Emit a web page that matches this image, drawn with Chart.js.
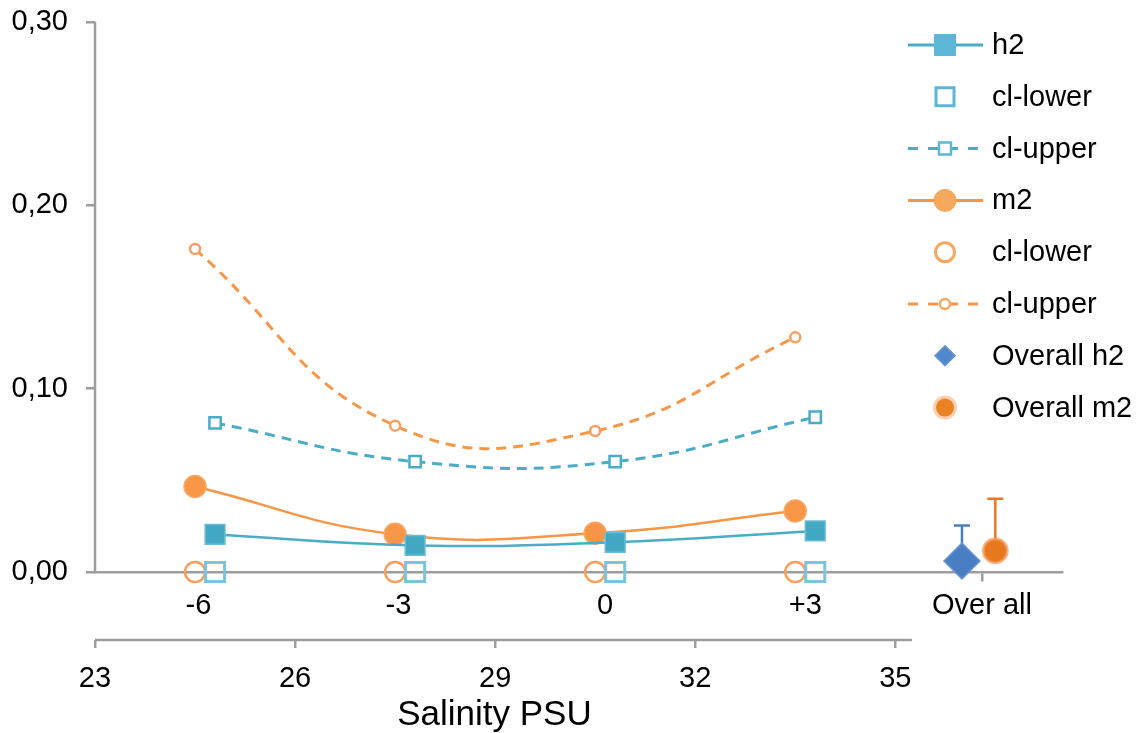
<!DOCTYPE html>
<html>
<head>
<meta charset="utf-8">
<script src="https://cdn.jsdelivr.net/npm/chart.js@4.4.1/dist/chart.umd.min.js"></script>
<style>
html,body{margin:0;padding:0;background:#fff;}
#caja{width:1138px;height:733px;position:relative;}
</style>
</head>
<body>
<div id="caja"><canvas id="grafica"></canvas></div>
<script>
// valores
var salH2 = [24.8, 27.8, 30.8, 33.8];
var salM2 = [24.5, 27.5, 30.5, 33.5];
var h2 = [0.0205, 0.0145, 0.0162, 0.0224];
var h2Lower = [0, 0, 0, 0];
var h2Upper = [0.0813, 0.0602, 0.0602, 0.0844];
var m2 = [0.0466, 0.0206, 0.0211, 0.0333];
var m2Lower = [0, 0, 0, 0];
var m2Upper = [0.1762, 0.0798, 0.0769, 0.1280];
var overallX = [36.0, 36.5];
var overallH2 = 0.0060, overallH2Upper = 0.0253;
var overallM2 = 0.0116, overallM2Upper = 0.0400;

var salTicks = [23, 26, 29, 32, 35];
var catLabels = ['-6', '-3', '0', '+3', 'Over all'];
var catPos = [24.55, 27.55, 30.65, 33.65, 36.3];
var yTicks = [0, 0.1, 0.2, 0.3];
var tituloX = 'Salinity PSU';

var gris = '#9d9d9d';
var azul = '#4BACC6';
var naranja = '#F79646';
var fuente = "'Liberation Sans', Arial, sans-serif";

function pares(xs, ys) {
    return xs.map(function (x, i) { return {x: x, y: ys[i]}; });
}

Chart.defaults.font.family = fuente;
Chart.defaults.font.size = 29;
Chart.defaults.color = '#000';

// lineas de ejes, barras de error, titulo y leyenda
var extras = {
    id: 'extras',
    beforeDatasetsDraw: function (chart) {
        var ctx = chart.ctx, sx = chart.scales.x, sy = chart.scales.y;
        ctx.save();
        ctx.strokeStyle = gris;
        ctx.lineWidth = 2.5;
        ctx.beginPath();
        ctx.moveTo(sx.left, sy.getPixelForValue(0.3));
        ctx.lineTo(sx.left, sy.getPixelForValue(0));
        ctx.moveTo(sx.getPixelForValue(23), chart.chartArea.bottom);
        ctx.lineTo(sx.getPixelForValue(35.25), chart.chartArea.bottom);
        ctx.stroke();
        var barras = [[overallX[0], overallH2, overallH2Upper, '#4A7EBB'],
                      [overallX[1], overallM2, overallM2Upper, '#E8782A']];
        barras.forEach(function (b) {
            var px = sx.getPixelForValue(b[0]);
            var y0 = sy.getPixelForValue(b[1]), y1 = sy.getPixelForValue(b[2]);
            ctx.strokeStyle = b[3];
            ctx.beginPath();
            ctx.moveTo(px, y0);
            ctx.lineTo(px, y1);
            ctx.moveTo(px - 8, y1);
            ctx.lineTo(px + 8, y1);
            ctx.stroke();
        });
        ctx.restore();
    },
    afterDraw: function (chart) {
        var ctx = chart.ctx, sx = chart.scales.x;
        ctx.save();
        // titulo del eje, centrado bajo la linea 23-35
        ctx.fillStyle = '#000';
        ctx.font = '35px ' + fuente;
        ctx.textAlign = 'center';
        ctx.textBaseline = 'middle';
        ctx.fillText(tituloX, (sx.getPixelForValue(23) + sx.getPixelForValue(35.25)) / 2 - 9, 715);
        // leyenda propia, dentro del area
        chart.data.datasets.forEach(function (ds, i) {
            var y = 45 + i * 51.8;
            var ly = ds.leyenda;
            if (ly.linea) {
                ctx.beginPath();
                ctx.strokeStyle = ds.borderColor;
                ctx.lineWidth = 3;
                ctx.setLineDash(ly.linea === 'dash' ? [10, 10] : []);
                ctx.moveTo(908, y);
                ctx.lineTo(983, y);
                ctx.stroke();
                ctx.setLineDash([]);
            }
            marca(ctx, ds.pointStyle, 945, y, ly.r, ly.relleno, ly.borde, ly.ancho, ly.halo);
            ctx.fillStyle = '#000';
            ctx.font = '29px ' + fuente;
            ctx.textBaseline = 'middle';
            ctx.textAlign = 'left';
            ctx.fillText(ds.label, 992, y + 1);
        });
        ctx.restore();
    }
};

function marca(ctx, estilo, x, y, r, relleno, borde, ancho, halo) {
    if (halo) {
        ctx.beginPath();
        ctx.arc(x, y, r + 3, 0, Math.PI * 2);
        ctx.fillStyle = halo;
        ctx.fill();
    }
    ctx.beginPath();
    if (estilo === 'rect') ctx.rect(x - r, y - r, 2 * r, 2 * r);
    else if (estilo === 'rectRot') {
        ctx.moveTo(x - r, y); ctx.lineTo(x, y - r); ctx.lineTo(x + r, y); ctx.lineTo(x, y + r); ctx.closePath();
    } else ctx.arc(x, y, r, 0, Math.PI * 2);
    if (relleno) { ctx.fillStyle = relleno; ctx.fill(); }
    if (ancho) { ctx.lineWidth = ancho; ctx.strokeStyle = borde; ctx.stroke(); }
}

var grafica = document.getElementById('grafica').getContext('2d');
var chart = new Chart(grafica, {
    type: 'line',
    data: {
        datasets: [{
            label: 'h2',
            data: pares(salH2, h2),
            borderColor: azul, borderWidth: 2.5, tension: 0.45,
            pointStyle: 'rect', pointRadius: 14, pointBackgroundColor: '#43A8C4',
            pointBorderColor: '#6DBCD6', pointBorderWidth: 1.5,
            leyenda: {linea: 'solid', r: 10.5, relleno: '#5BB7D5', borde: '#5BB7D5', ancho: 1}
        }, {
            label: 'cl-lower',
            data: pares(salH2, h2Lower),
            showLine: false, borderColor: azul,
            pointStyle: 'rect', pointRadius: 13.5, pointBackgroundColor: 'rgba(0,0,0,0)',
            pointBorderColor: '#7CC4DC', pointBorderWidth: 3,
            leyenda: {linea: null, r: 9, relleno: null, borde: '#5BB7D5', ancho: 3}
        }, {
            label: 'cl-upper',
            data: pares(salH2, h2Upper),
            borderColor: azul, borderWidth: 3, borderDash: [10, 7], tension: 0.45,
            pointStyle: 'rect', pointRadius: 8, pointBackgroundColor: '#fff',
            pointBorderColor: '#4BACC6', pointBorderWidth: 2.5,
            leyenda: {linea: 'dash', r: 6, relleno: '#fff', borde: '#5BB7D5', ancho: 2.5}
        }, {
            label: 'm2',
            data: pares(salM2, m2),
            borderColor: naranja, borderWidth: 2.5, tension: 0.45,
            pointStyle: 'circle', pointRadius: 11, pointBackgroundColor: naranja,
            pointBorderColor: '#F8A868', pointBorderWidth: 1.5,
            leyenda: {linea: 'solid', r: 11, relleno: '#F6A85E', borde: '#F6A85E', ancho: 1}
        }, {
            label: 'cl-lower',
            data: pares(salM2, m2Lower),
            showLine: false, borderColor: naranja,
            pointStyle: 'circle', pointRadius: 10, pointBackgroundColor: 'rgba(0,0,0,0)',
            pointBorderColor: '#F7A060', pointBorderWidth: 2.5,
            leyenda: {linea: null, r: 9.5, relleno: null, borde: '#F6A85E', ancho: 3}
        }, {
            label: 'cl-upper',
            data: pares(salM2, m2Upper),
            borderColor: naranja, borderWidth: 3, borderDash: [10, 7], tension: 0.45,
            pointStyle: 'circle', pointRadius: 5, pointBackgroundColor: '#fff',
            pointBorderColor: '#F7A060', pointBorderWidth: 2.5,
            leyenda: {linea: 'dash', r: 5, relleno: '#fff', borde: '#F6A85E', ancho: 2.5}
        }, {
            label: 'Overall h2',
            data: [{x: overallX[0], y: overallH2}],
            showLine: false, borderColor: '#4A7EC4',
            pointStyle: 'rectRot', pointRadius: 18, pointBackgroundColor: '#4A7EC4',
            pointBorderColor: '#6A95D0', pointBorderWidth: 1.5,
            leyenda: {linea: null, r: 10, relleno: '#5088CC', borde: '#6A95D0', ancho: 1.5}
        }, {
            label: 'Overall m2',
            data: [{x: overallX[1], y: overallM2}],
            showLine: false, borderColor: '#E8781E',
            pointStyle: 'circle', pointRadius: 12, pointBackgroundColor: '#E8781E',
            pointBorderColor: 'rgba(244,160,100,0.7)', pointBorderWidth: 3,
            leyenda: {linea: null, r: 9, relleno: '#EA8224', borde: null, ancho: 0, halo: 'rgba(247,160,100,0.5)'}
        }]
    },
    options: {
        responsive: true,
        maintainAspectRatio: false,
        animation: false,
        layout: {padding: {top: 22, right: 76, left: 0, bottom: 0}},
        plugins: {legend: {display: false}, tooltip: {enabled: false}},
        scales: {
            x: {
                type: 'linear', position: 'bottom', min: 23, max: 37.5,
                afterBuildTicks: function (scale) { scale.ticks = salTicks.map(function (v) { return {value: v}; }); },
                afterFit: function (scale) { scale.height = 93; scale.paddingLeft = 0; scale.paddingRight = 0; },
                ticks: {padding: 14, maxRotation: 0, autoSkip: false, callback: function (v) { return String(v); }},
                grid: {drawOnChartArea: false, tickLength: 8, color: gris, lineWidth: 2.5},
                border: {display: false}
            },
            x2: {
                type: 'linear', axis: 'x', position: {y: 0}, min: 23, max: 37.5,
                afterBuildTicks: function (scale) { scale.ticks = catPos.map(function (v) { return {value: v}; }); },
                afterFit: function (scale) { scale.paddingLeft = 0; scale.paddingRight = 0; },
                ticks: {padding: 9, maxRotation: 0, autoSkip: false, callback: function (v, i) { return catLabels[i]; }},
                grid: {
                    drawOnChartArea: false, tickLength: 8, lineWidth: 2.5,
                    color: function (c) { return c.index === catLabels.length - 1 ? gris : 'rgba(0,0,0,0)'; }
                },
                border: {display: true, color: gris, width: 2.5}
            },
            y: {
                type: 'linear', min: -0.0371, max: 0.3,
                afterBuildTicks: function (scale) { scale.ticks = yTicks.map(function (v) { return {value: v}; }); },
                afterFit: function (scale) { scale.width = 95; scale.paddingTop = 0; scale.paddingBottom = 0; },
                ticks: {padding: 18, callback: function (v) { return v.toFixed(2).replace('.', ','); }},
                grid: {drawOnChartArea: false, tickLength: 9, color: gris, lineWidth: 2.5},
                border: {display: false}
            }
        }
    },
    plugins: [extras]
});
</script>
</body>
</html>
